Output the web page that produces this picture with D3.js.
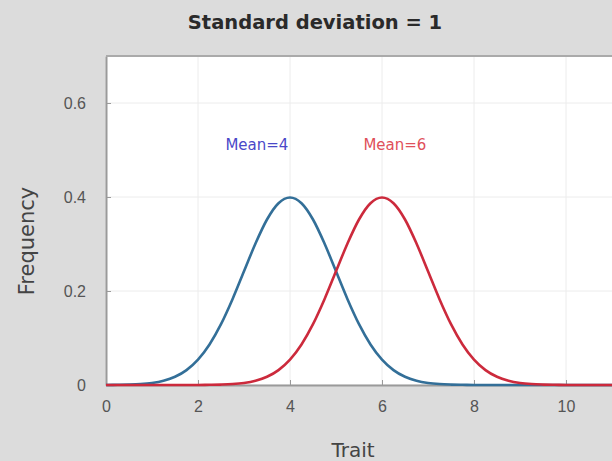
<html><head><meta charset="UTF-8"><title>Standard deviation = 1</title>
<style>
  body, html { margin: 0; padding: 0; background: #dcdcdc; overflow: hidden; }
  svg { display: block; font-family: 'DejaVu Sans', sans-serif; }
</style>
</head>
<body>
<div id="chart"></div>
<script src="https://d3js.org/d3.v7.min.js"></script>
<script>
// values, trait 0..12 in steps of 0.25
const traitX = d3.range(0, 12.001, 0.25);
const freqMean4 = [0.0001,0.0004,0.0009,0.0020,0.0044,0.0091,0.0175,0.0317,0.0540,0.0863,0.1295,0.1826,0.2420,0.3011,0.3521,0.3867,0.3989,0.3867,0.3521,0.3011,0.2420,0.1826,0.1295,0.0863,0.0540,0.0317,0.0175,0.0091,0.0044,0.0020,0.0009,0.0004,0.0001,
  0,0,0,0,0,0,0,0,0,0,0,0,0,0,0,0];
const freqMean6 = [0,0,0,0,0,0,0,0,
  0.0001,0.0004,0.0009,0.0020,0.0044,0.0091,0.0175,0.0317,0.0540,0.0863,0.1295,0.1826,0.2420,0.3011,0.3521,0.3867,0.3989,0.3867,0.3521,0.3011,0.2420,0.1826,0.1295,0.0863,0.0540,0.0317,0.0175,0.0091,0.0044,0.0020,0.0009,0.0004,0.0001,
  0,0,0,0,0,0,0,0];
const xTicks = [0,2,4,6,8,10];
const yTicks = [0,0.2,0.4,0.6];
const labels = [
  {text: "Mean=4", x: 3.28, y: 0.50, color: "#4a48c8"},
  {text: "Mean=6", x: 6.28, y: 0.50, color: "#e0505a"}
];

const width = 612, height = 461;
const margin = {left: 106, top: 56, bottom: 76};

const svg = d3.select("#chart").append("svg")
  .attr("width", width).attr("height", height);

const x = d3.scaleLinear().domain([0, 12]).range([margin.left, margin.left + 12 * 46]);
const y = d3.scaleLinear().domain([0, 0.7]).range([height - margin.bottom, margin.top]);

svg.append("rect")
  .attr("x", x(0)).attr("y", y(0.7))
  .attr("width", x(12) - x(0)).attr("height", y(0) - y(0.7))
  .attr("fill", "#fff");

// grid
svg.append("g").selectAll("line").data(xTicks).join("line")
  .attr("x1", d => x(d)).attr("x2", d => x(d))
  .attr("y1", y(0)).attr("y2", y(0.7))
  .attr("stroke", "#ececec");
svg.append("g").selectAll("line").data(yTicks).join("line")
  .attr("x1", x(0)).attr("x2", x(12))
  .attr("y1", d => y(d)).attr("y2", d => y(d))
  .attr("stroke", "#ececec");

const xAxis = svg.append("g")
  .attr("transform", `translate(0,${y(0)})`)
  .call(d3.axisBottom(x).tickValues(xTicks).tickFormat(d3.format("d")).tickSizeInner(-5).tickSizeOuter(0).tickPadding(16));
const yAxis = svg.append("g")
  .attr("transform", `translate(${x(0)},0)`)
  .call(d3.axisLeft(y).tickValues(yTicks).tickFormat(d => d === 0 ? "0" : d3.format(".1f")(d)).tickSizeInner(-5).tickSizeOuter(0).tickPadding(20));

[xAxis, yAxis].forEach(g => {
  g.select(".domain").attr("stroke", "#9a9a9a").attr("stroke-width", 2);
  g.selectAll(".tick line").attr("stroke", "#9a9a9a");
  g.selectAll("text").attr("font-size", 16).attr("fill", "#555");
});

svg.append("line")
  .attr("x1", x(0)).attr("x2", x(12))
  .attr("y1", y(0.7)).attr("y2", y(0.7))
  .attr("stroke", "#aaa").attr("stroke-width", 2);

const line = d3.line().x((d, i) => x(traitX[i])).y(d => y(d)).curve(d3.curveMonotoneX);

svg.append("path").datum(freqMean4)
  .attr("d", line).attr("fill", "none")
  .attr("stroke", "#336f98").attr("stroke-width", 2.6);
svg.append("path").datum(freqMean6)
  .attr("d", line).attr("fill", "none")
  .attr("stroke", "#cc2a3c").attr("stroke-width", 2.6);

svg.append("g").selectAll("text").data(labels).join("text")
  .attr("x", d => x(d.x)).attr("y", d => y(d.y))
  .attr("text-anchor", "middle").attr("font-size", 15)
  .attr("fill", d => d.color)
  .text(d => d.text);

svg.append("text")
  .attr("x", 315).attr("y", 29)
  .attr("text-anchor", "middle").attr("font-size", 19.5).attr("font-weight", "bold")
  .attr("fill", "#2a2a2a")
  .text("Standard deviation = 1");

svg.append("text")
  .attr("x", 353).attr("y", 457)
  .attr("text-anchor", "middle").attr("font-size", 20).attr("fill", "#444")
  .text("Trait");

svg.append("text")
  .attr("transform", `translate(34,241) rotate(-90)`)
  .attr("text-anchor", "middle").attr("font-size", 21).attr("fill", "#444")
  .text("Frequency");
</script>
</body></html>
